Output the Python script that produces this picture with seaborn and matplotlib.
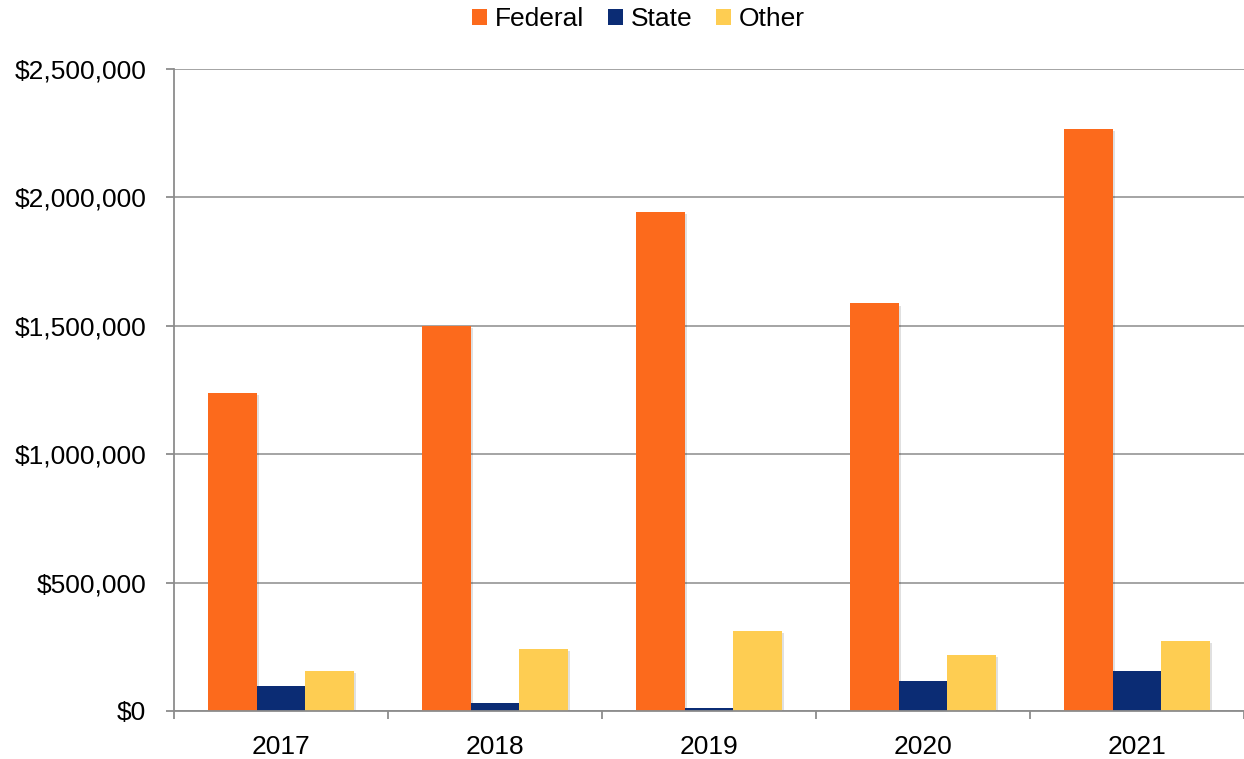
import numpy as np
import pandas as pd
import matplotlib
matplotlib.use("Agg")
import matplotlib.pyplot as plt
import matplotlib.patheffects as pe
import seaborn as sns
from matplotlib.ticker import FuncFormatter, FixedLocator

years = ["2017", "2018", "2019", "2020", "2021"]
federal = [1237000, 1500000, 1945000, 1587000, 2268000]
state = [98000, 33000, 11000, 117000, 156000]
other = [156000, 241000, 311000, 217000, 271000]
series_names = ["Federal", "State", "Other"]
palette = ["#FC6A1C", "#0B2C74", "#FECD52"]

df = pd.DataFrame({
    "Year": years * 3,
    "Amount": federal + state + other,
    "Source": [s for s in series_names for _ in years],
})

sns.set_theme(style="white")
plt.rcParams["font.family"] = ["Liberation Sans", "DejaVu Sans"]
plt.rcParams["text.color"] = "black"

FS = 19
fig = plt.figure(figsize=(12.44, 7.59), dpi=100)
ax = fig.add_axes([174 / 1244, 1 - 711 / 759, 1 - 174 / 1244, (711 - 69) / 759])

sns.barplot(data=df, x="Year", y="Amount", hue="Source", hue_order=series_names,
            palette=palette, width=0.68, gap=0, saturation=1, ax=ax,
            edgecolor="none", linewidth=0)

ax.set_xlim(-0.5, 4.5)
ax.set_ylim(0, 2500000)
ax.set_yticks(np.arange(0, 2500001, 500000))
ax.yaxis.set_major_formatter(FuncFormatter(lambda v, p: f"${int(v):,}"))
ax.grid(axis="y", color="#8C8C8C", linewidth=1.1)
ax.set_axisbelow(True)

for side in ["top", "right"]:
    ax.spines[side].set_visible(False)
for side in ["left", "bottom"]:
    ax.spines[side].set_color("#8C8C8C")
    ax.spines[side].set_linewidth(1.3)

ax.set_xlabel("")
ax.set_ylabel("")
ax.tick_params(axis="x", which="major", length=0, labelsize=FS, pad=17, colors="black")
ax.xaxis.set_minor_locator(FixedLocator(np.arange(-0.5, 4.6, 1.0)))
ax.tick_params(axis="x", which="minor", bottom=True, length=6, width=1.3, color="#8C8C8C", direction="out")
ax.tick_params(axis="y", left=True, length=6, width=1.3, color="#8C8C8C", labelsize=FS, pad=14, labelcolor="black")

leg = ax.legend(loc="center", bbox_to_anchor=(638.5 / 1244, 1 - 19 / 759),
                bbox_transform=fig.transFigure,
                ncol=3, frameon=False, fontsize=FS, handlelength=0.57, handleheight=0.57,
                handletextpad=0.3, columnspacing=0.9, borderaxespad=0, borderpad=0)
for txt in leg.get_texts():
    txt.set_color("black")

# soft drop shadow on the bars only
for bar in ax.patches:
    bar.set_path_effects([pe.SimplePatchShadow(offset=(1.5, -1.5), shadow_rgbFace="#000000", alpha=0.12),
                          pe.Normal()])
for handle in leg.legend_handles:
    handle.set_path_effects([])

fig.savefig("out.png", dpi=100, facecolor="white")
